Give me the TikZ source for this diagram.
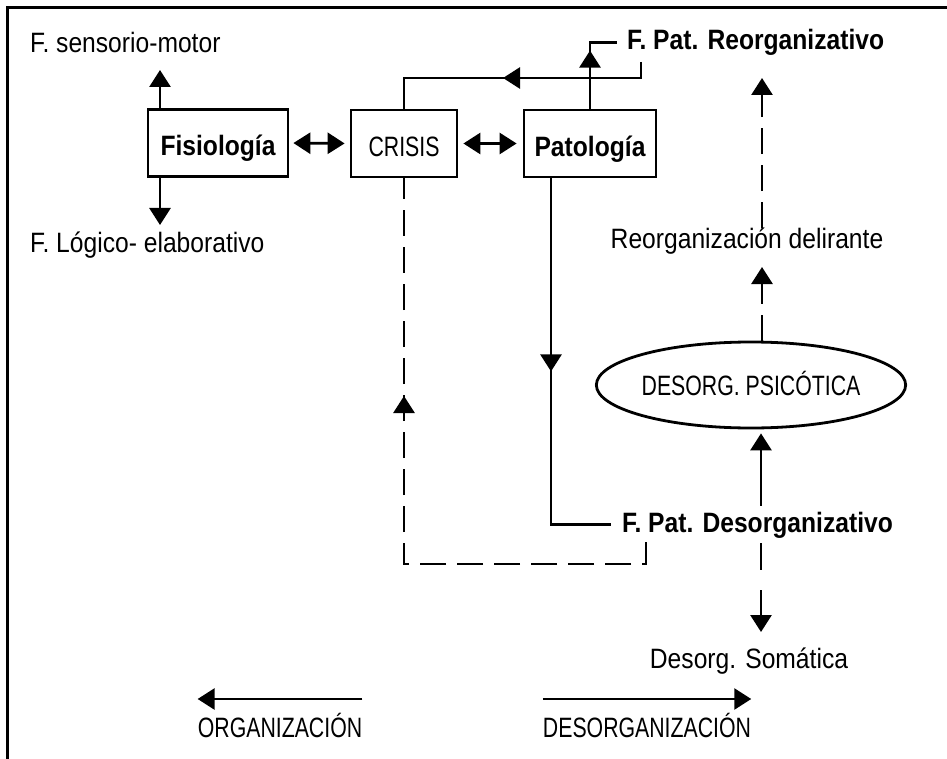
\documentclass[tikz,border=0pt]{standalone}
\usepackage{fontspec}
\setmainfont{Liberation Sans}[FakeStretch=0.88]
\newfontfamily\capsf{Liberation Sans}[FakeStretch=0.76]
\usetikzlibrary{arrows.meta,shapes.geometric,decorations.markings}
\tikzset{
  lw/.style={line width=2.8pt},
  txt/.style={inner sep=0pt, font=\fontsize{28}{32}\selectfont},
  caps/.style={inner sep=0pt, font=\capsf\fontsize{28}{32}\selectfont},
  btxt/.style={inner sep=0pt, font=\fontsize{28}{32}\selectfont\bfseries},
  box/.style={draw, lw, rectangle, inner sep=0pt, text height=32pt, text depth=6pt, minimum height=67pt},
  tip/.style={-{Triangle[length=17pt,width=21pt]}},
  dtip/.style={{Triangle[length=17pt,width=21pt]}-{Triangle[length=17pt,width=21pt]}},
  dashline/.style={dash pattern=on 26pt off 11pt},
  midtip/.style={postaction={decorate},decoration={markings,mark=at position #1 with {\arrow{Triangle[length=17pt,width=21pt]}}}},
}
\begin{document}
\begin{tikzpicture}[x=1pt,y=-1pt]
\useasboundingbox (0,0) rectangle (947,759);
\draw[line width=3pt] (7,759) -- (7,8) -- (947,8);

% boxes
\node[box, font=\fontsize{28}{32}\selectfont\bfseries, minimum width=140pt] (fis) at (218,143) {Fisiología};
\node[box, font=\capsf\fontsize{28}{32}\selectfont, minimum width=106pt] (cri) at (404,143.5) {CRISIS};
\node[box, font=\fontsize{28}{32}\selectfont\bfseries, minimum width=132pt] (pat) at (590,143.5) {Patología};
\node[ellipse, draw, lw, inner sep=0pt, minimum width=290pt, minimum height=86pt, font=\capsf\fontsize{28}{32}\selectfont, text height=24pt, text depth=4pt] (psi) at (751,385) {DESORG. PSICÓTICA};

% texts
\node[txt, anchor=base west] (sm) at (30,53) {F. sensorio-motor};
\node[txt, anchor=base west] (le) at (30,253) {F. Lógico- elaborativo};
\node[btxt, anchor=base west] (reo) at (627,50) {F. Pat. Reorganizativo};
\node[txt, anchor=base] (rd) at (747,249) {Reorganización delirante};
\node[btxt, anchor=base west] (des) at (622,532) {F. Pat. Desorganizativo};
\node[txt, anchor=base] (som) at (749,668) {Desorg. Somática};
\node[caps, anchor=base] (org) at (280,737) {ORGANIZACIÓN};
\node[caps, anchor=base] (dorg) at (647,737) {DESORGANIZACIÓN};

% coordinates
\coordinate (smtip) at (160,70);
\coordinate (letip) at (160,225);
\coordinate (rbk) at (641,62);
\coordinate (rcorner) at (641,78);
\coordinate (rtip) at (762,78);
\coordinate (rdtip) at (762,267);
\coordinate (colR) at (761,0);
\coordinate (colP) at (551,0);
\coordinate (dstart) at (646,542);
\coordinate (dcorner) at (646,564);
\coordinate (stip) at (761,632);

% connectors
\draw[lw,tip] (fis.north -| smtip) -- (smtip);
\draw[lw,tip] (fis.south -| letip) -- (letip);
\draw[lw,dtip,shorten <=4pt,shorten >=5pt] (fis.east) -- (cri.west);
\draw[lw,dtip,shorten <=5pt,shorten >=6pt] (cri.east) -- (pat.west);

\draw[lw,midtip=154pt] (rbk) -- (rcorner) -| (cri.north);
\draw[lw,midtip=58pt] (pat.north) |- ([xshift=-10pt]reo.west);

\draw[lw,dashline,tip] (rd.north -| rtip) -- (rtip);
\draw[lw,dashline,tip] (psi.north -| rdtip) -- (rdtip);
\draw[lw,tip,shorten <=6pt,shorten >=4pt] (des.north -| colR) -- (psi.south -| colR);
\draw[lw,dash pattern=on 27pt off 20pt,tip,shorten <=5pt] (des.south -| colR) -- (stip);

\draw[lw,midtip=193pt] (pat.south -| colP) |- ([xshift=-11pt]des.west);
\draw[lw,dashline,midtip=432pt] (dstart) -- (dcorner) -| (cri.south);

\draw[lw,tip] ([yshift=38pt]org.base east) -- ([yshift=38pt]org.base west);
\draw[lw,tip] ([yshift=38pt]dorg.base west) -- ([yshift=38pt]dorg.base east);
\end{tikzpicture}
\end{document}
